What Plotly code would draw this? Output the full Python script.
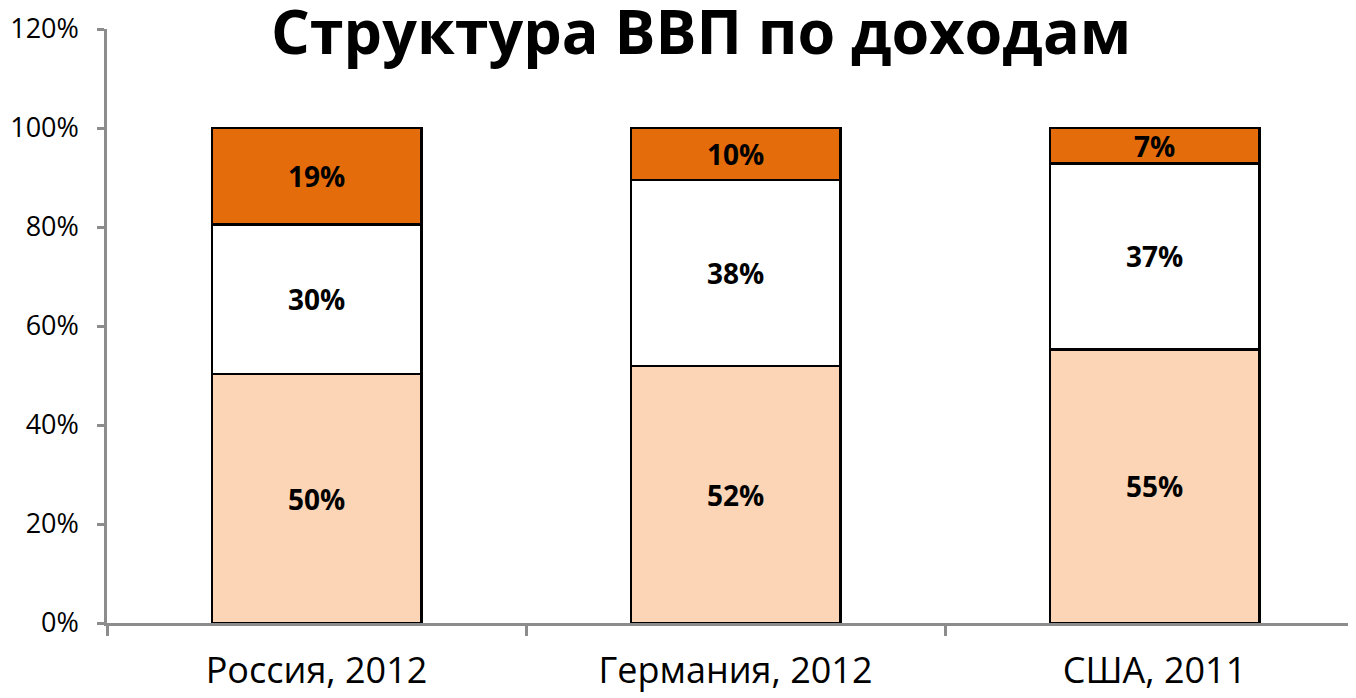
import plotly.graph_objects as go

categories = ["Россия, 2012", "Германия, 2012", "США, 2011"]
wages = [50.3, 51.9, 55.3]
profits = [30.2, 37.6, 37.5]
taxes = [19.5, 10.5, 7.2]
wages_lbl = ["50%", "52%", "55%"]
profits_lbl = ["30%", "38%", "37%"]
taxes_lbl = ["19%", "10%", "7%"]
y_ticks = [0, 20, 40, 60, 80, 100, 120]
title_text = "Структура ВВП по доходам"

FONT = "Open Sans"

fig = go.Figure()
for vals, lbls, color in [
    (wages, wages_lbl, "#FBD5B5"),
    (profits, profits_lbl, "#FFFFFF"),
    (taxes, taxes_lbl, "#E46C0A"),
]:
    fig.add_trace(go.Bar(
        x=categories, y=vals, text=lbls, texttemplate="%{text}",
        textposition="inside", insidetextanchor="middle", textangle=0,
        constraintext="none",
        textfont=dict(family=FONT, size=28, color="black", weight="bold"),
        marker=dict(color=color, line=dict(color="black", width=2.5)),
        width=0.5, showlegend=False, hoverinfo="skip",
    ))

fig.update_layout(
    barmode="stack",
    width=1356, height=698,
    margin=dict(l=99, r=0, t=21, b=83, autoexpand=False),
    plot_bgcolor="white", paper_bgcolor="white",
    font=dict(family=FONT, color="black"),
)
fig.update_yaxes(
    range=[0, 120], tickvals=y_ticks, ticktext=[f"{v}%" for v in y_ticks],
    automargin=False, ticklabelstandoff=13,
    showgrid=False, zeroline=False, showline=True, linecolor="#8C8C8C", linewidth=2.5,
    ticks="outside", ticklen=7, tickwidth=2.5, tickcolor="#8C8C8C",
    tickfont=dict(family=FONT, size=27, color="black"),
)
fig.update_xaxes(
    range=[-0.5, 2.5], tickson="boundaries", automargin=False, ticklabelstandoff=14,
    showgrid=False, showline=True, linecolor="#8C8C8C", linewidth=2.5,
    ticks="outside", ticklen=10, tickwidth=2.5, tickcolor="#8C8C8C",
    tickfont=dict(family=FONT, size=36, color="black"),
)
fig.add_annotation(
    text=title_text, xref="paper", yref="paper", x=(693 - 99) / 1257, y=1 + (21 - 22) / 594,
    xanchor="center", yanchor="middle", showarrow=False,
    font=dict(family=FONT, size=61, color="black", weight="bold"),
)
fig.write_html("out.html")
